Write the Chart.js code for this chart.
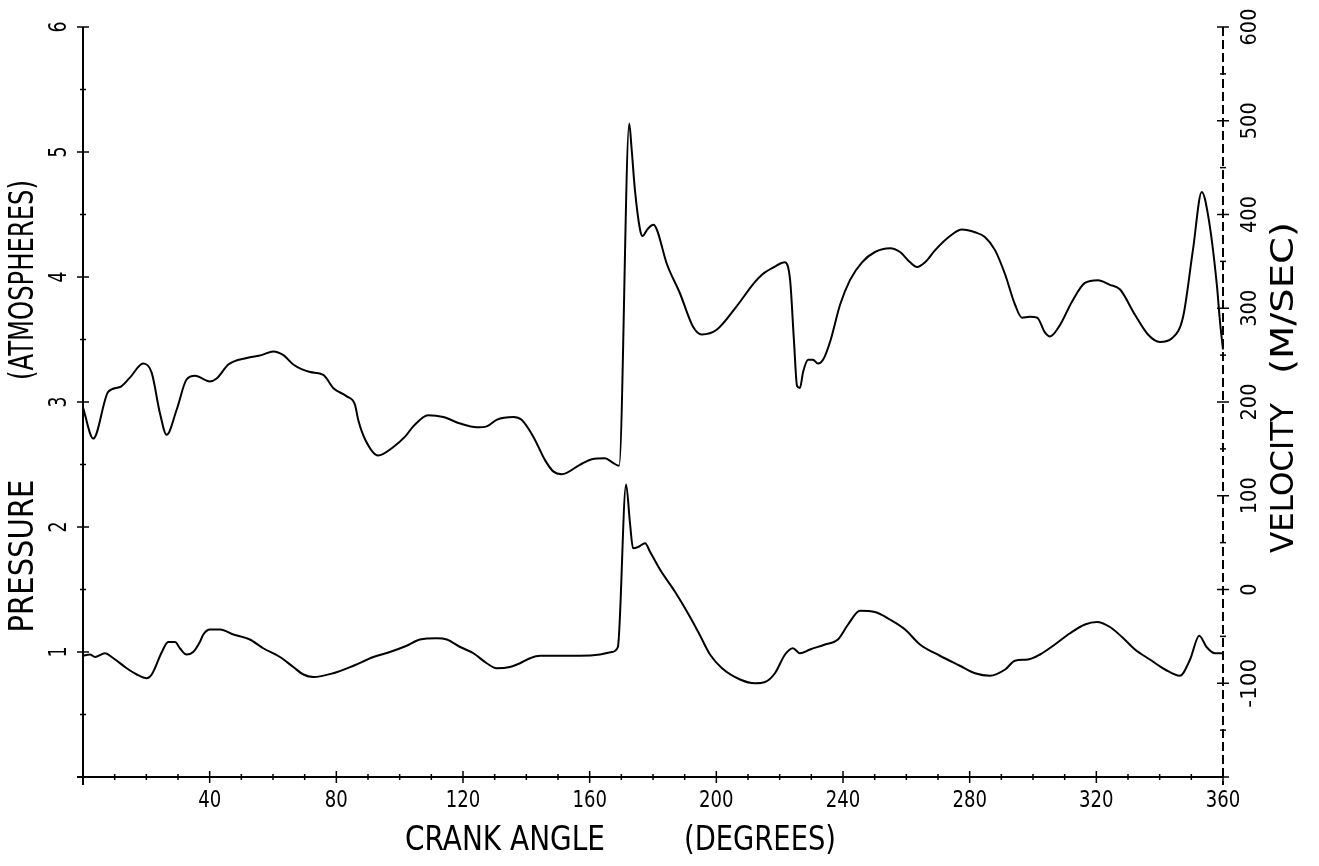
<!DOCTYPE html>
<html><head><meta charset="utf-8">
<script src="https://cdn.jsdelivr.net/npm/chart.js@4.4.0/dist/chart.umd.min.js"></script>
<style>html,body{margin:0;padding:0;background:#fff;}#wrap{width:1319px;height:866px;}</style>
</head><body><div id="wrap"><canvas id="c" width="1319" height="866"></canvas></div>
<script>
// ---- data ----
const upperAngle = [0,3.25,8.0,11.7,14.8,19.0,21.7,24.3,26.4,29.6,32.7,35.4,40.1,42.2,45.9,51.7,56.4,60.1,63.3,66.4,71.7,75.9,79.0,83.3,85.9,86.9,89.1,93.2,98.0,101.7,104.3,109.0,113.8,119.1,124.3,127.5,130.6,135.9,138.5,142.2,145.9,148.5,151.2,156.9,160.7,164.8,167.4,169.3,172.5,173.2,174.3,175.9,176.7,178.2,180.1,181.2,184.3,188.5,192.7,195.4,200.1,206.4,211.7,214.5,218.3,221.6,223.3,224.5,225.5,226.4,227.4,229.0,230.5,232.1,233.7,235.9,239.1,242.2,246.0,250.1,254.9,258.0,261.2,263.4,265.9,269.1,273.8,277.6,281.7,284.8,288.0,291.2,294.3,296.5,299.0,301.3,303.8,305.4,308.5,312.3,316.4,320.5,324.3,327.5,332.2,336.3,340.1,343.9,347.4,350.5,353.3,355.4,358.0,359.1,360];
const upperVelocity = [194,161,211,216,226,241,231,188,165,192,224,228,222,225,240,247,250,254,250,240,232,229,215,206,197,181,160,143,152,163,174,186,184,177,173,174,181,184,181,163,138,126,123,133,139,140,135,132,497,472,426,384,377,384,389,384,348,316,280,272,277,302,326,336,344,349,330,266,217,215,232,245,245,241,245,264,304,330,349,360,364,360,349,344,349,362,377,384,381,376,362,336,304,290,291,290,274,270,282,307,327,330,325,320,293,272,264,268,291,362,424,397,327,284,256];
const lowerAngle = [0,2.2,3.8,6.9,9.6,13.8,17.0,20.1,21.7,24.9,26.9,29.1,30.6,32.7,34.8,36.9,38.0,40.1,43.3,47.5,52.7,56.9,62.2,66.4,69.6,72.7,79.0,85.4,91.7,96.9,102.2,106.4,111.7,114.9,119.1,123.3,127.5,130.6,134.8,138.0,141.2,144.3,150.6,156.9,163.3,167.0,168.9,171.5,172.7,173.7,175.3,177.5,179.1,182.2,187.0,191.7,194.9,198.0,201.8,207.5,212.2,215.4,218.5,221.7,224.2,226.4,229.6,234.3,238.4,241.6,245.4,250.1,254.8,259.6,264.3,270.6,276.9,281.7,286.4,291.2,294.3,298.4,302.2,306.9,311.7,316.4,320.2,324.3,328.1,332.2,336.9,341.7,346.4,349.6,352.5,354.8,357.5,360];
const lowerPressure = [0.97,0.98,0.96,0.99,0.95,0.87,0.82,0.79,0.82,1.00,1.08,1.08,1.03,0.98,1.00,1.08,1.14,1.18,1.18,1.14,1.10,1.03,0.96,0.88,0.82,0.80,0.83,0.89,0.96,1.00,1.05,1.10,1.11,1.10,1.04,0.99,0.91,0.87,0.88,0.91,0.95,0.97,0.97,0.97,0.98,1.00,1.04,2.34,2.04,1.83,1.84,1.87,1.80,1.66,1.48,1.28,1.13,0.98,0.87,0.78,0.75,0.76,0.83,0.98,1.03,0.99,1.02,1.06,1.10,1.22,1.33,1.32,1.26,1.18,1.06,0.97,0.89,0.83,0.81,0.86,0.93,0.94,0.98,1.06,1.15,1.22,1.24,1.20,1.12,1.02,0.94,0.86,0.81,0.94,1.13,1.04,0.99,0.99];
const angleTickLabels = [40,80,120,160,200,240,280,320,360];
const pressureTickLabels = [1,2,3,4,5,6];
const velocityTickLabels = [-100,0,100,200,300,400,500,600];
const xTitleParts = ["CRANK ANGLE", "(DEGREES)"];
const leftTitleParts = ["PRESSURE", "(ATMOSPHERES)"];
const rightTitleParts = ["VELOCITY", "(M/SEC)"];

const FONT = '"DejaVu Sans", sans-serif';
function drawFit(ctx, str, x, y, size, rot, width) {
  ctx.save();
  ctx.translate(x, y);
  ctx.rotate(rot);
  ctx.font = size + 'px ' + FONT;
  const w = ctx.measureText(str).width;
  ctx.scale(width / w, 1);
  ctx.textAlign = 'center';
  ctx.textBaseline = 'middle';
  ctx.fillStyle = '#000';
  ctx.fillText(str, 0, 0);
  ctx.restore();
}

const axesPlugin = {
  id: 'plotterAxes',
  afterDatasetsDraw(chart) {
    const ctx = chart.ctx;
    const xs = chart.scales.x, yp = chart.scales.yP, yv = chart.scales.yV;
    const L = xs.getPixelForValue(0), R = xs.getPixelForValue(360);
    const B = yp.getPixelForValue(0), T = yp.getPixelForValue(6);
    ctx.save();
    ctx.strokeStyle = '#000';
    ctx.lineWidth = 2;
    ctx.beginPath(); ctx.moveTo(L, T); ctx.lineTo(L, B + 8); ctx.stroke();
    ctx.beginPath(); ctx.moveTo(L - 6, B); ctx.lineTo(R, B); ctx.stroke();
    ctx.setLineDash([9, 4]);
    ctx.beginPath(); ctx.moveTo(R, yv.getPixelForValue(600)); ctx.lineTo(R, B + 8); ctx.stroke();
    ctx.setLineDash([]);
    ctx.lineWidth = 1.5;
    for (let v = 0; v <= 360; v += 10) {
      const px = xs.getPixelForValue(v), len = v % 40 === 0 ? 6 : 3;
      ctx.beginPath(); ctx.moveTo(px, B - len); ctx.lineTo(px, B + len); ctx.stroke();
    }
    for (let v = 0; v <= 6; v += 0.5) {
      const py = yp.getPixelForValue(v), len = v % 1 === 0 ? 6 : 3;
      ctx.beginPath(); ctx.moveTo(L - len, py); ctx.lineTo(L + len, py); ctx.stroke();
    }
    for (let v = -200; v <= 600; v += 50) {
      const py = yv.getPixelForValue(v), len = v % 100 === 0 ? 6 : 3;
      ctx.beginPath(); ctx.moveTo(R - len, py); ctx.lineTo(R + len, py); ctx.stroke();
    }
    ctx.restore();
    angleTickLabels.forEach(v => {
      const s = String(v);
      drawFit(ctx, s, xs.getPixelForValue(v), B + 24, 23, 0, s.length * 11.5);
    });
    pressureTickLabels.forEach(v => {
      drawFit(ctx, String(v), L - 23, yp.getPixelForValue(v), 24, -Math.PI / 2, 11);
    });
    velocityTickLabels.forEach(v => {
      const s = String(v);
      drawFit(ctx, s, R + 28, yv.getPixelForValue(v), 21, -Math.PI / 2, s.length * 12.3);
    });
    drawFit(ctx, xTitleParts[0], 505, 841, 34, 0, 200);
    drawFit(ctx, xTitleParts[1], 760, 841, 34, 0, 152);
    drawFit(ctx, leftTitleParts[0], 24, 556, 34, -Math.PI / 2, 153);
    drawFit(ctx, leftTitleParts[1], 24, 280, 34, -Math.PI / 2, 200);
    drawFit(ctx, rightTitleParts[0], 1285, 478, 32, -Math.PI / 2, 150);
    drawFit(ctx, rightTitleParts[1], 1285, 298, 32, -Math.PI / 2, 152);
  }
};

new Chart(document.getElementById('c'), {
  type: 'line',
  data: {
    datasets: [
      { label: 'Velocity', data: upperAngle.map((a, i) => ({ x: a, y: upperVelocity[i] })), yAxisID: 'yV',
        borderColor: '#000', borderWidth: 2, pointRadius: 0, cubicInterpolationMode: 'monotone', clip: false },
      { label: 'Pressure', data: lowerAngle.map((a, i) => ({ x: a, y: lowerPressure[i] })), yAxisID: 'yP',
        borderColor: '#000', borderWidth: 2, pointRadius: 0, cubicInterpolationMode: 'monotone', clip: false }
    ]
  },
  options: {
    responsive: false,
    animation: false,
    devicePixelRatio: 1,
    layout: { padding: { left: 83, right: 96, top: 27, bottom: 89 } },
    plugins: { legend: { display: false }, tooltip: { enabled: false } },
    scales: {
      x: { type: 'linear', min: 0, max: 360, display: false },
      yP: { type: 'linear', position: 'left', min: 0, max: 6, display: false },
      yV: { type: 'linear', position: 'right', min: -200, max: 600, display: false }
    }
  },
  plugins: [axesPlugin]
});
</script>
</body></html>
